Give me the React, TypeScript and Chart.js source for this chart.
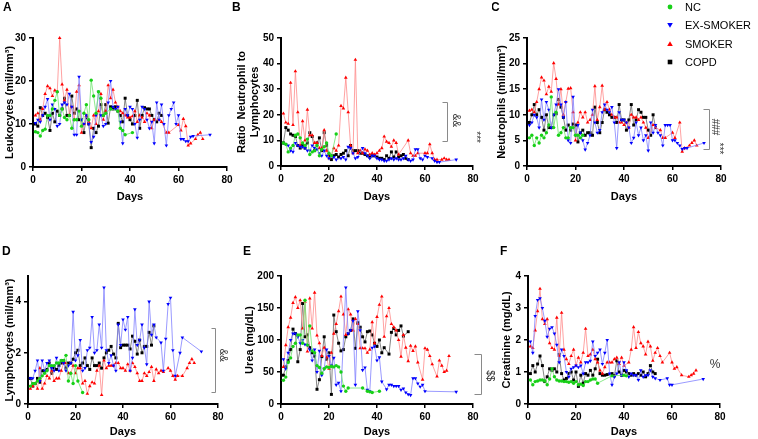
import React, { useEffect, useRef } from "react";
import { Chart, registerables } from "chart.js";
Chart.register(...registerables);

const FONT = "'Liberation Sans', Arial, Helvetica, sans-serif";

const SERIES_LABELS = ["NC", "EX-SMOKER", "SMOKER", "COPD"];
const MARKER_COLORS = ["#18d018", "#0000ff", "#ff0000", "#000000"];
const LINE_COLORS = ["#6ee46e", "#8080ff", "#ff8a8a", "#666666"];
const POINT_STYLES = ["circle", "triangle", "triangle", "rect"];
const POINT_ROT = [0, 180, 0, 0];
const POINT_RADIUS = [1.7, 2.1, 2.1, 2.1];

type P = [number, number][];

// ---------- A: Leukocytes ----------
const A_NC: P = [[1,8.2],[2,8],[3,7.2],[4,8.5],[5,8.8],[6,12],[7,12],[8,13.5],[9,15.5],[10,17.5],[11,12],[12,13.5],[13,11.5],[14,11],[15,12],[16,9],[17,11],[18,11],[19,13],[20,9.5],[21,12.5],[22,14.5],[23,11],[24,20.2],[25,16.5],[26,12.5],[27,17.5],[28,16],[29,12],[30,12.5],[32,13.5],[35,13],[36,9],[37,8.5],[38,7.5],[41,8]];
const A_EX: P = [[1,10.2],[2,11],[3,10.5],[4,12],[5,14],[6,15.8],[7,11],[8,14.5],[9,13.5],[10,9.5],[11,10],[12,14.5],[13,15],[14,14.5],[15,17],[16,14],[17,7.5],[18,7.5],[19,21],[20,11],[21,10],[22,12],[23,10],[24,5.8],[25,7],[26,12],[27,17.5],[28,12],[29,9.5],[30,10],[31,15],[32,20],[33,14],[34,13.5],[35,14],[36,10.5],[37,5.5],[38,13.5],[39,12],[40,14],[41,13.5],[42,10],[43,6.8],[44,11],[45,14],[46,13.5],[47,11],[48,9],[49,10.5],[50,5.5],[51,15],[52,11],[53,14.5],[54,10],[55,5],[56,12],[57,13.5],[58,15],[59,10],[60,12],[61,6.5],[62,6.5],[63,6],[64,6],[65,7],[66,7.2],[73,7.5]];
const A_SM: P = [[1,12],[2,12.5],[3,11],[4,13.5],[5,17],[6,18.8],[7,18.3],[8,16.5],[9,17.8],[10,17.5],[11,30],[12,19.2],[13,15.5],[14,18],[15,12],[16,14],[17,11],[18,17.5],[19,19],[20,8],[21,10],[22,12],[23,10.5],[24,9],[25,12],[26,10],[27,13],[28,17],[29,11],[30,13],[31,19],[32,16],[33,18],[34,15],[35,14],[36,13],[37,12.5],[38,12],[39,11.5],[40,11.5],[41,11.8],[42,13],[43,10.5],[44,12],[45,11.5],[46,10.5],[47,12.5],[48,12],[49,9],[50,11],[52,11],[53,10.5],[55,8],[56,8],[60,9.8],[61,8.5],[62,11.2],[63,9.5],[64,5],[65,5.5],[67,6.5],[68,7.5],[69,8],[70,6.5]];
const A_CO: P = [[1,10],[2,9.5],[3,13.8],[4,12],[5,12.5],[6,11.5],[7,8.5],[8,12.5],[9,10.5],[10,13],[11,12],[12,13.5],[13,16],[14,12],[15,12],[16,16.5],[17,12.5],[18,13.5],[19,11],[20,11],[21,8],[22,11.5],[23,10],[24,4.5],[25,9],[26,8],[27,9.5],[28,14.5],[29,12],[30,14.5],[31,10.2],[32,14],[33,13.5],[34,14],[35,13],[36,12],[37,10.5],[38,16],[39,12],[40,11],[41,10],[42,12],[43,15.5],[44,9],[45,12],[46,13.8],[47,13.5],[48,13.5],[49,12],[50,11],[51,10.5],[52,12.5],[53,12]];

// ---------- B: Ratio Neutrophil to Lymphocytes ----------
const B_NC: P = [[1,9],[2,8.5],[3,5.5],[4,7],[5,8],[6,12],[7,12.5],[8,11],[9,9],[10,8],[11,10.5],[12,4.5],[13,5.5],[14,6],[15,8],[16,4],[17,6.5],[18,7.5],[19,9],[20,5],[21,4],[23,12.5]];
const B_EX: P = [[1,9],[2,8.5],[3,8],[4,6],[5,5.5],[6,9],[7,8],[8,7.5],[9,7.5],[10,7],[11,6],[12,6],[13,8],[14,7],[15,6.5],[16,5],[17,4],[18,6],[19,4],[20,3],[21,4],[22,3.5],[23,2.5],[25,3],[26,3.5],[27,2.5],[28,7.5],[29,7],[30,5],[31,3],[32,3.5],[34,7],[35,5],[36,4],[37,3],[38,4],[39,4],[40,3],[41,2.5],[42,2.5],[43,2],[44,2],[45,2.5],[46,3],[47,2.5],[48,3],[49,2.5],[50,2.5],[51,3],[52,4],[53,2.5],[54,2],[55,2.5],[56,6.5],[57,6.5],[58,3],[59,2.5],[60,4],[61,3.5],[63,3],[64,2],[65,1.5],[66,1.5],[73,2.5]];
const B_SM: P = [[1,20.5],[2,17],[3,16.5],[4,32.5],[5,16],[6,37],[7,21],[8,8],[9,17.5],[10,10],[11,22],[12,12],[13,12],[14,9],[15,9],[16,7],[17,7],[18,14],[19,6],[20,3],[21,4],[22,7],[23,6],[24,8],[25,23.5],[26,22.5],[27,34.5],[28,21],[29,8],[30,5],[31,41.5],[32,5],[33,6],[34,5],[35,6.5],[36,6],[37,4.5],[38,5],[39,4.5],[40,5],[41,6],[42,7],[43,11.5],[44,9.5],[45,9],[46,7.5],[47,10],[48,9],[49,4.5],[53,10],[54,5],[55,4],[56,4],[57,5],[60,5],[61,5],[62,8.5],[63,5],[64,2.5],[65,2.5],[67,2.5],[68,3],[69,2.5],[70,2.5]];
const B_CO: P = [[1,9],[2,15],[3,14],[4,12.5],[5,12],[6,11.5],[7,8],[8,7],[9,8],[10,7],[11,9],[12,13],[13,11.5],[14,6],[15,9],[16,11],[17,6],[18,13],[19,8],[20,4],[21,2.5],[22,4],[23,4.5],[24,3.5],[25,4.5],[26,5],[27,6],[28,4],[29,8],[30,6],[31,6],[32,6],[33,5],[34,5],[35,4.5],[36,4],[37,3.5],[38,4],[39,4],[40,3.5],[41,3],[42,3],[43,2.5],[44,4],[45,3],[46,5.5],[47,3.5],[48,5.5],[49,3.5],[50,4],[51,4.5],[52,3],[53,2.5]];

// ---------- C: Neutrophils ----------
const C_NC: P = [[1,5.5],[2,6],[3,4],[4,5.5],[5,4.5],[6,6],[7,5.5],[8,6.5],[9,8],[10,13.5],[11,7.5],[12,10.5],[13,6],[14,6.5],[15,7.5],[16,5.5],[17,5.5],[18,7.5],[19,7.5],[20,6],[21,6],[22,5.5],[23,6]];
const C_EX: P = [[1,8],[2,8.5],[3,10],[4,9.5],[5,7.5],[6,13],[7,9],[8,12.5],[9,11],[10,7.5],[11,10],[12,12],[13,15],[14,12],[15,9.5],[16,12.5],[17,5],[18,4.5],[19,13.5],[20,6],[21,8],[22,6.5],[23,5],[24,3.2],[25,4.5],[26,6],[27,11],[28,8.5],[29,6.5],[30,7],[31,10.5],[32,12],[33,11],[34,10.5],[35,11.5],[36,8.5],[37,3.5],[38,10.5],[39,9],[40,9],[41,8.5],[42,7.5],[43,4.5],[44,5.5],[45,8.5],[46,6],[47,7.5],[48,5],[49,6],[50,3],[51,8.5],[52,6.5],[53,8],[54,6.5],[55,6],[56,4],[57,8],[58,8],[59,8],[60,5],[61,5],[62,4.5],[63,4],[64,3.3],[65,3.5],[66,3.5],[73,4.5]];
const C_SM: P = [[1,10.8],[2,11],[3,10.5],[4,12.5],[5,15],[6,17.3],[7,16.7],[8,14],[9,15.5],[10,14.5],[11,20.1],[12,17],[13,12],[14,15],[15,10],[16,12.5],[17,15.1],[18,15.2],[19,10.5],[20,5],[21,8.5],[22,10.5],[23,9.5],[24,10.5],[25,8.5],[26,9],[27,10],[28,15.6],[29,9],[30,11.5],[31,15.7],[32,11],[33,12.5],[34,11],[35,10],[36,9.5],[37,9.5],[38,8.5],[39,8.5],[40,8],[41,8.5],[42,7.5],[43,10],[44,9.5],[45,9.5],[46,9],[47,9.5],[48,8.5],[49,7.5],[50,5.5],[52,8],[53,7.5],[55,7],[56,5.5],[57,5.5],[60,6.5],[61,5.5],[63,8.5],[64,2.8],[65,3.5],[67,4],[68,4.5],[69,5],[70,4]];
const C_CO: P = [[1,8.5],[2,10],[3,12],[4,10],[5,11],[6,9.5],[7,7],[8,10],[9,7.5],[10,7.5],[11,10],[12,10.2],[13,13],[14,11.5],[15,9.5],[16,7],[17,8],[18,7],[19,8.2],[20,8],[21,4.7],[22,6.5],[23,7],[24,6],[25,6.5],[26,6.5],[27,6],[28,11.5],[29,8.5],[30,6.5],[31,8.5],[32,11],[33,10.5],[34,10],[35,9.5],[36,9.5],[37,8.5],[38,12],[39,9],[40,9],[41,7],[42,9],[43,12],[44,8],[45,9],[46,11],[47,10.5],[48,9.5],[49,9.5],[50,7],[51,6],[52,10],[53,7.5]];

// ---------- D: Lymphocytes ----------
const D_NC: P = [[1,0.7],[2,0.8],[3,0.8],[4,0.9],[5,1.0],[6,1.1],[7,1.2],[8,1.3],[9,1.5],[10,1.5],[11,1.5],[12,1.6],[13,1.6],[14,1.7],[15,1.7],[16,1.9],[17,0.9],[18,1.2],[19,0.8],[20,1.5],[21,0.9],[23,0.45]];
const D_EX: P = [[1,1.0],[2,1.0],[3,1.3],[4,1.7],[5,0.9],[6,1.7],[7,1.3],[8,1.6],[9,1.7],[10,1.4],[11,1.3],[12,1.8],[13,1.3],[14,1.7],[15,1.6],[16,1.3],[17,1.5],[18,1.6],[19,3.6],[20,1.7],[21,1.9],[22,2.5],[23,1.3],[24,1.4],[25,2.1],[26,2.2],[27,3.4],[28,2.0],[29,2.1],[30,3.1],[31,2.2],[32,4.55],[33,2.1],[34,1.6],[35,1.9],[36,1.5],[37,1.3],[38,3.1],[39,2.3],[40,3.3],[41,2.9],[42,3.4],[43,1.3],[44,1.8],[45,3.7],[46,2.3],[47,2.5],[48,3.1],[49,2.2],[50,1.55],[51,4.0],[52,2.7],[53,3.1],[54,2.6],[56,2.4],[57,1.3],[58,2.55],[59,3.9],[60,4.15],[61,2.1],[62,1.1],[64,2.0],[65,2.6],[73,2.05]];
const D_SM: P = [[1,0.6],[2,0.7],[3,0.8],[4,0.6],[5,1.4],[6,0.6],[7,0.8],[8,1.1],[9,1.0],[10,1.3],[11,0.9],[12,1.0],[13,1.0],[14,1.3],[15,1.6],[16,1.6],[17,1.2],[18,1.2],[19,1.5],[20,1.2],[21,1.4],[22,1.4],[23,0.8],[24,0.9],[25,0.4],[26,0.7],[27,0.85],[28,0.8],[29,1.3],[30,1.5],[31,0.35],[32,1.7],[33,1.4],[34,1.5],[35,1.5],[36,1.5],[37,1.6],[38,1.6],[39,1.4],[40,1.4],[41,1.3],[42,1.55],[43,1.3],[44,1.6],[45,1.45],[46,1.2],[47,0.9],[48,0.9],[49,1.2],[50,1.1],[51,1.25],[52,1.45],[53,0.9],[54,1.35],[55,1.2],[56,1.3],[57,1.25],[59,1.4],[60,1.3],[61,1.1],[62,0.95],[63,1.1],[65,1.1],[67,1.4],[68,1.6],[69,1.75],[70,1.6]];
const D_CO: P = [[1,1.0],[2,0.7],[3,0.8],[4,1.0],[5,0.85],[6,1.3],[7,1.3],[8,1.35],[9,1.6],[10,1.2],[11,1.4],[12,1.35],[13,1.5],[14,1.6],[15,1.7],[16,1.4],[17,1.6],[18,1.6],[19,1.75],[20,2.0],[21,2.1],[22,1.5],[23,1.6],[24,1.8],[25,1.5],[26,1.35],[27,1.8],[28,1.5],[29,1.5],[30,1.6],[31,1.4],[32,1.8],[33,2.0],[34,2.1],[35,2.25],[36,1.95],[37,1.8],[38,3.15],[39,2.2],[40,2.3],[41,2.3],[42,2.3],[43,2.15],[44,2.65],[45,2.45],[46,1.95],[47,2.5],[48,2.0],[49,2.25],[50,2.25],[51,2.8],[52,2.3],[53,3.05]];

// ---------- E: Urea ----------
const E_NC: P = [[1,37],[2,42],[3,65],[4,72],[5,90],[6,95],[7,108],[8,108],[9,95],[10,162],[11,92],[12,122],[13,83],[14,80],[15,60],[16,57],[17,48],[18,55],[19,58],[20,57],[21,59],[22,58],[23,60],[24,58],[25,50],[26,28],[27,20],[28,25],[34,25],[36,20],[37,19],[38,18],[41,20]];
const E_EX: P = [[1,70],[2,55],[3,80],[4,100],[5,110],[6,110],[7,105],[8,95],[9,100],[10,93],[11,92],[12,85],[13,68],[14,85],[15,50],[16,83],[17,45],[18,55],[19,85],[20,75],[21,60],[22,72],[23,30],[24,33],[25,20],[27,182],[28,110],[29,115],[30,130],[31,30],[32,145],[33,115],[34,53],[35,57],[36,22],[37,20],[38,88],[39,90],[40,68],[41,73],[42,35],[44,23],[45,30],[46,30],[47,28],[48,28],[49,28],[50,22],[51,24],[52,18],[53,15],[54,14],[55,40],[56,40],[57,32],[58,27],[59,30],[60,20],[73,19]];
const E_SM: P = [[1,58],[2,92],[3,120],[4,135],[5,158],[6,167],[7,150],[8,162],[9,118],[10,160],[11,82],[12,165],[13,118],[14,174],[15,107],[16,95],[17,75],[18,88],[19,73],[20,55],[21,80],[22,110],[23,125],[24,145],[25,168],[26,140],[27,108],[28,148],[29,140],[30,115],[31,133],[32,125],[33,87],[34,87],[35,87],[36,80],[37,85],[38,128],[39,95],[40,136],[41,155],[42,168],[43,105],[44,137],[45,150],[46,125],[47,120],[48,115],[49,100],[50,74],[51,108],[52,88],[53,67],[54,91],[55,83],[56,90],[57,65],[59,38],[60,87],[61,85],[62,75],[63,62],[65,43],[66,68],[67,60],[68,50],[69,52],[70,75]];
const E_CO: P = [[1,45],[2,58],[3,68],[4,85],[5,117],[6,110],[7,66],[8,85],[9,157],[10,105],[11,108],[12,88],[13,80],[14,75],[15,23],[16,38],[17,74],[18,105],[19,70],[20,80],[21,15],[22,139],[23,113],[24,95],[25,83],[26,85],[27,105],[28,110],[29,115],[30,133],[31,87],[32,127],[33,120],[34,105],[35,97],[36,113],[37,114],[38,108],[39,95],[40,90],[41,100],[42,80],[43,88],[45,78],[46,112],[47,118],[48,108],[49,115],[50,122],[51,106],[53,113]];

// ---------- F: Creatinine ----------
const F_NC: P = [[1,0.75],[2,0.6],[3,0.7],[4,0.72],[5,0.75],[6,0.75],[7,0.72],[8,0.6],[9,0.78],[10,1.1],[11,0.85],[12,0.75],[13,0.72],[14,0.72],[15,0.7],[16,0.7],[17,0.68],[18,0.7],[19,0.65],[20,0.7],[21,0.6],[22,0.62],[23,0.58],[24,0.7],[25,0.7],[26,0.75],[27,0.78],[28,0.78],[29,0.65],[35,0.88],[40,0.9],[41,0.88]];
const F_EX: P = [[1,1.95],[2,1.6],[3,2.75],[4,3.25],[5,3.3],[6,3.0],[7,2.6],[8,2.1],[9,2.35],[10,2.4],[11,2.2],[12,1.85],[13,1.3],[14,1.7],[15,1.5],[16,1.0],[17,0.85],[18,1.1],[19,1.15],[20,1.2],[21,1.15],[22,1.2],[23,0.95],[24,1.3],[25,1.3],[26,1.35],[27,1.95],[28,1.5],[29,1.6],[30,1.7],[31,1.25],[32,1.6],[33,2.0],[34,0.95],[35,0.6],[36,0.85],[37,0.95],[38,1.3],[39,0.9],[40,1.3],[41,1.05],[42,0.85],[43,0.95],[44,0.9],[45,0.9],[46,0.75],[47,1.05],[48,0.85],[49,0.9],[50,0.9],[51,1.05],[52,0.85],[53,0.8],[55,0.75],[58,0.8],[59,0.6],[60,0.6],[73,0.78]];
const F_SM: P = [[1,1.8],[2,1.75],[3,2.3],[4,2.9],[5,3.6],[6,2.65],[7,2.5],[8,2.65],[9,1.9],[10,1.75],[11,1.7],[12,2.7],[13,1.5],[14,2.85],[15,1.7],[16,1.4],[17,1.25],[18,1.5],[19,1.7],[20,1.2],[21,1.45],[22,1.3],[23,1.6],[24,2.35],[25,1.5],[26,1.55],[27,1.7],[28,1.4],[29,1.3],[30,1.05],[31,0.95],[32,1.15],[33,1.3],[34,1.3],[35,1.3],[36,1.4],[37,1.45],[38,1.25],[39,1.45],[40,1.2],[42,1.3],[43,1.7],[44,2.4],[45,1.75],[46,2.25],[47,1.9],[48,1.8],[49,1.55],[50,1.95],[51,1.8],[52,1.35],[53,1.6],[54,1.75],[55,1.5],[56,1.3],[59,1.6],[60,1.3],[61,1.1],[62,1.15],[64,0.9],[67,0.85],[68,0.9],[69,0.95],[70,1.05]];
const F_CO: P = [[1,0.95],[2,1.2],[3,1.0],[4,1.25],[5,1.5],[6,1.2],[7,0.7],[8,0.85],[9,1.1],[10,1.05],[11,1.1],[12,1.0],[13,1.55],[14,0.95],[15,0.75],[16,0.8],[17,0.95],[18,1.0],[19,0.75],[20,1.0],[21,0.55],[22,0.9],[23,0.65],[24,0.95],[25,0.9],[26,1.05],[27,0.9],[28,1.1],[29,1.4],[30,0.95],[31,0.9],[32,0.9],[33,0.92],[35,0.95],[36,0.88],[37,1.35],[38,1.0],[39,0.9],[40,1.05],[41,1.0],[42,0.95],[43,0.9],[44,0.95],[45,0.9],[46,0.95],[47,0.9],[48,1.0],[49,0.85],[50,0.95],[51,1.2],[52,1.0],[53,0.95]];

const X_TITLE = "Days";
const X_MAX = 80;
const X_STEP = 20;

type Annot =
  | { kind: "bracket"; x: number; y1: number; y2: number; tick: number }
  | { kind: "text"; x: number; y: number; text: string; rotate: boolean; size: number };

interface Panel {
  letter: string; letterX: number; letterY: number;
  left: number; top: number; width: number; height: number;
  chartLeft: number; chartTop: number; chartRight: number; chartBottom: number;
  yTitle: string | string[]; yMax: number; yStep: number;
  series: P[]; annots: Annot[]; legend?: boolean; xTitlePad: number;
}

const PANELS: Panel[] = [
  { letter: "A", letterX: 3, letterY: 11, left: 0, top: 0, width: 240, height: 212,
    chartLeft: 33, chartTop: 38, chartRight: 227, chartBottom: 167,
    yTitle: "Leukocytes (mil/mm³)", yMax: 30, yStep: 10, series: [A_NC, A_EX, A_SM, A_CO], annots: [], xTitlePad: 8 },
  { letter: "B", letterX: 232, letterY: 11, left: 232, top: 0, width: 256, height: 212,
    chartLeft: 281, chartTop: 38, chartRight: 473, chartBottom: 166,
    yTitle: ["Ratio  Neutrophil to", "Lymphocytes"], yMax: 50, yStep: 10, series: [B_NC, B_EX, B_SM, B_CO],
    annots: [
      { kind: "bracket", x: 69.2, y1: 25, y2: 9.8, tick: 5 },
      { kind: "text", x: 72.8, y: 17.8, text: "&&", rotate: true, size: 10 },
      { kind: "text", x: 81.2, y: 11.3, text: "***", rotate: true, size: 10 },
    ], xTitlePad: 8 },
  { letter: "C", letterX: 491, letterY: 11, left: 492, top: 0, width: 266, height: 212,
    chartLeft: 527, chartTop: 38, chartRight: 721, chartBottom: 166,
    yTitle: "Neutrophils (mil/mm³)", yMax: 25, yStep: 5, series: [C_NC, C_EX, C_SM, C_CO],
    annots: [
      { kind: "bracket", x: 75, y1: 11.1, y2: 3.3, tick: 6 },
      { kind: "text", x: 77.6, y: 7.6, text: "###", rotate: true, size: 10 },
      { kind: "text", x: 79, y: 3.4, text: "***", rotate: true, size: 10 },
    ], legend: true, xTitlePad: 8 },
  { letter: "D", letterX: 2, letterY: 255, left: 0, top: 225, width: 240, height: 214,
    chartLeft: 28, chartTop: 276, chartRight: 218, chartBottom: 404,
    yTitle: "Lymphocytes (mil/mm³)", yMax: 5, yStep: 2, series: [D_NC, D_EX, D_SM, D_CO],
    annots: [
      { kind: "bracket", x: 78.6, y1: 2.97, y2: 0.47, tick: 4 },
      { kind: "text", x: 82.2, y: 1.9, text: "&&", rotate: true, size: 10 },
    ], xTitlePad: 0 },
  { letter: "E", letterX: 243, letterY: 255, left: 240, top: 225, width: 257, height: 214,
    chartLeft: 281, chartTop: 276, chartRight: 473, chartBottom: 404,
    yTitle: "Urea (mg/dL)", yMax: 200, yStep: 50, series: [E_NC, E_EX, E_SM, E_CO],
    annots: [
      { kind: "bracket", x: 83.3, y1: 78, y2: 15.6, tick: 7 },
      { kind: "text", x: 87.1, y: 44, text: "$$", rotate: true, size: 10 },
    ], xTitlePad: 0 },
  { letter: "F", letterX: 500, letterY: 255, left: 497, top: 225, width: 261, height: 214,
    chartLeft: 528, chartTop: 276, chartRight: 720, chartBottom: 404,
    yTitle: "Creatinine (mg/dL)", yMax: 4, yStep: 1, series: [F_NC, F_EX, F_SM, F_CO],
    annots: [
      { kind: "text", x: 77.9, y: 1.22, text: "%", rotate: false, size: 12 },
    ], xTitlePad: 0 },
];

const LEGEND_X = 670;
const LEGEND_TEXT_X = 685;
const LEGEND_Y = [7, 25, 44, 62];

function drawMarker(ctx: CanvasRenderingContext2D, i: number, x: number, y: number) {
  ctx.fillStyle = MARKER_COLORS[i];
  ctx.beginPath();
  if (i === 0) {
    ctx.arc(x, y, 2.4, 0, Math.PI * 2);
  } else if (i === 1) {
    ctx.moveTo(x - 2.8, y - 2); ctx.lineTo(x + 2.8, y - 2); ctx.lineTo(x, y + 2.8);
    ctx.closePath();
  } else if (i === 2) {
    ctx.moveTo(x - 2.8, y + 2); ctx.lineTo(x + 2.8, y + 2); ctx.lineTo(x, y - 2.8);
    ctx.closePath();
  } else {
    ctx.rect(x - 2.3, y - 2.3, 4.6, 4.6);
  }
  ctx.fill();
}

const annotPlugin = {
  id: "annot",
  afterDraw(chart: any, _args: any, opts: any) {
    const p: Panel = opts.panel;
    if (!p) return;
    const { ctx } = chart;
    const xs = chart.scales.x;
    const ys = chart.scales.y;
    ctx.save();
    ctx.fillStyle = "#000";
    ctx.font = `bold 12px ${FONT}`;
    ctx.textAlign = "left";
    ctx.textBaseline = "alphabetic";
    ctx.fillText(p.letter, p.letterX - p.left, p.letterY - p.top);

    for (const a of p.annots) {
      if (a.kind === "bracket") {
        const x = Math.round(xs.getPixelForValue(a.x)) + 0.5;
        const y1 = Math.round(ys.getPixelForValue(a.y1)) + 0.5;
        const y2 = Math.round(ys.getPixelForValue(a.y2)) + 0.5;
        ctx.strokeStyle = "#8a8a8a";
        ctx.lineWidth = 1;
        ctx.beginPath();
        ctx.moveTo(x - a.tick, y1); ctx.lineTo(x, y1); ctx.lineTo(x, y2); ctx.lineTo(x - a.tick, y2);
        ctx.stroke();
      } else {
        const x = xs.getPixelForValue(a.x);
        const y = ys.getPixelForValue(a.y);
        ctx.save();
        ctx.translate(x, y);
        if (a.rotate) ctx.rotate(Math.PI / 2);
        ctx.font = `${a.size}px ${FONT}`;
        ctx.fillStyle = "#333";
        ctx.textAlign = "center";
        ctx.textBaseline = "middle";
        ctx.fillText(a.text, 0, 0);
        ctx.restore();
      }
    }

    if (p.legend) {
      ctx.font = `11px ${FONT}`;
      ctx.textAlign = "left";
      ctx.textBaseline = "middle";
      SERIES_LABELS.forEach((lab, i) => {
        drawMarker(ctx, i, LEGEND_X - p.left, LEGEND_Y[i] - p.top);
        ctx.fillStyle = "#000";
        ctx.fillText(lab, LEGEND_TEXT_X - p.left, LEGEND_Y[i] - p.top + 0.5);
      });
    }
    ctx.restore();
  },
};

function PanelChart({ p }: { p: Panel }) {
  const ref = useRef<HTMLCanvasElement | null>(null);
  useEffect(() => {
    if (!ref.current) return;
    const tickFont = { family: FONT, size: 10, weight: "bold" as const };
    const titleFont = { family: FONT, size: 11, weight: "bold" as const };
    const axisCommon = {
      grid: { drawOnChartArea: false, drawTicks: true, tickLength: 4, color: "#000", lineWidth: 1.5 },
      border: { color: "#000", width: 2 },
    };
    const datasets = p.series.map((s, i) => ({
      label: SERIES_LABELS[i],
      data: s.map(([x, y]) => ({ x, y })),
      showLine: true,
      borderColor: LINE_COLORS[i],
      borderWidth: 0.8,
      backgroundColor: MARKER_COLORS[i],
      pointBackgroundColor: MARKER_COLORS[i],
      pointBorderColor: MARKER_COLORS[i],
      pointBorderWidth: 0,
      pointStyle: POINT_STYLES[i],
      pointRotation: POINT_ROT[i],
      pointRadius: POINT_RADIUS[i],
      tension: 0,
      clip: false as any,
    }));
    const chart = new Chart(ref.current, {
      type: "scatter",
      data: { datasets },
      plugins: [annotPlugin],
      options: {
        responsive: false,
        maintainAspectRatio: false,
        animation: false,
        devicePixelRatio: 1,
        events: [],
        layout: {
          padding: {
            left: 0,
            top: p.chartTop - p.top,
            right: p.left + p.width - p.chartRight,
            bottom: 0,
          },
        },
        plugins: {
          legend: { display: false },
          tooltip: { enabled: false },
          annot: { panel: p },
        } as any,
        scales: {
          x: {
            type: "linear",
            min: 0,
            max: X_MAX,
            ...axisCommon,
            ticks: { stepSize: X_STEP, maxRotation: 0, color: "#000", font: tickFont, padding: 3 },
            title: { display: true, text: X_TITLE, color: "#000", font: titleFont, padding: { top: 0, bottom: p.xTitlePad } },
            afterFit: (s: any) => { s.height = p.top + p.height - p.chartBottom; },
          },
          y: {
            type: "linear",
            min: 0,
            max: p.yMax,
            ...axisCommon,
            ticks: { stepSize: p.yStep, includeBounds: false, color: "#000", font: tickFont, padding: 3 },
            title: { display: true, text: p.yTitle, color: "#000", font: titleFont, padding: { top: 3, bottom: 0 } },
            afterFit: (s: any) => { s.width = p.chartLeft - p.left; },
          },
        } as any,
      },
    });
    return () => chart.destroy();
  }, [p]);
  return (
    <canvas
      ref={ref}
      width={p.width}
      height={p.height}
      style={{ position: "absolute", left: p.left, top: p.top, width: p.width, height: p.height }}
    />
  );
}

export default function App() {
  return (
    <div style={{ position: "absolute", left: 0, top: 0, width: 758, height: 439, background: "#fff", overflow: "hidden" }}>
      {PANELS.map((p) => (
        <PanelChart key={p.letter} p={p} />
      ))}
    </div>
  );
}
